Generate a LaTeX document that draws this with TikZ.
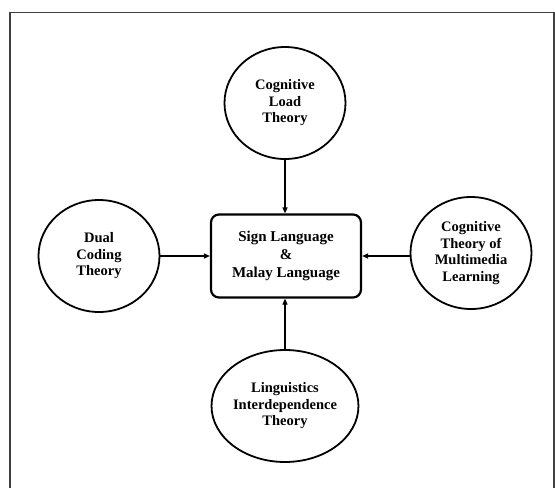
\documentclass[tikz,border=0pt]{standalone}
\usepackage{fontspec}
\setmainfont{Liberation Serif}
\usetikzlibrary{arrows.meta,shapes.geometric}
\begin{document}
\begin{tikzpicture}[x=1pt,y=-1pt,
  theory/.style={draw=black, line width=1.8pt, ellipse, minimum width=121pt, minimum height=112pt, inner sep=0pt,
    align=center, font=\fontsize{14.5}{16.5}\selectfont\bfseries},
  centerbox/.style={draw=black, line width=2.2pt, rounded corners=8pt, minimum width=150pt, minimum height=83pt,
    align=center, font=\fontsize{15}{18}\selectfont\bfseries},
  link/.style={line width=1.2pt, -{Triangle[length=6pt,width=5pt]}}]
\useasboundingbox (0,0) rectangle (555,488);
\fill[white] (0,0) rectangle (555,488);
\draw[line width=1.6pt, draw=black!75] (10,488) -- (10,12.5) -- (554,12.5) -- (554,488);
\node[centerbox] (c) at (286,256) {Sign Language\\\&\\Malay Language};
\node[theory] (top) at (285,103) {Cognitive\\Load\\Theory};
\node[theory] (left) at (99,256) {Dual\\Coding\\Theory};
\node[theory] (right) at (471,253) {Cognitive\\Theory of\\Multimedia\\Learning};
\node[theory] (bot) at (285,406) {Linguistics\\Interdependence\\Theory};
\draw[link] (top.south) -- (top.south |- c.north);
\draw[link] (left.east) -- (left.east -| c.west);
\draw[link] (right.west |- c.east) -- (c.east);
\draw[link] (bot.north) -- (bot.north |- c.south);
\end{tikzpicture}
\end{document}
